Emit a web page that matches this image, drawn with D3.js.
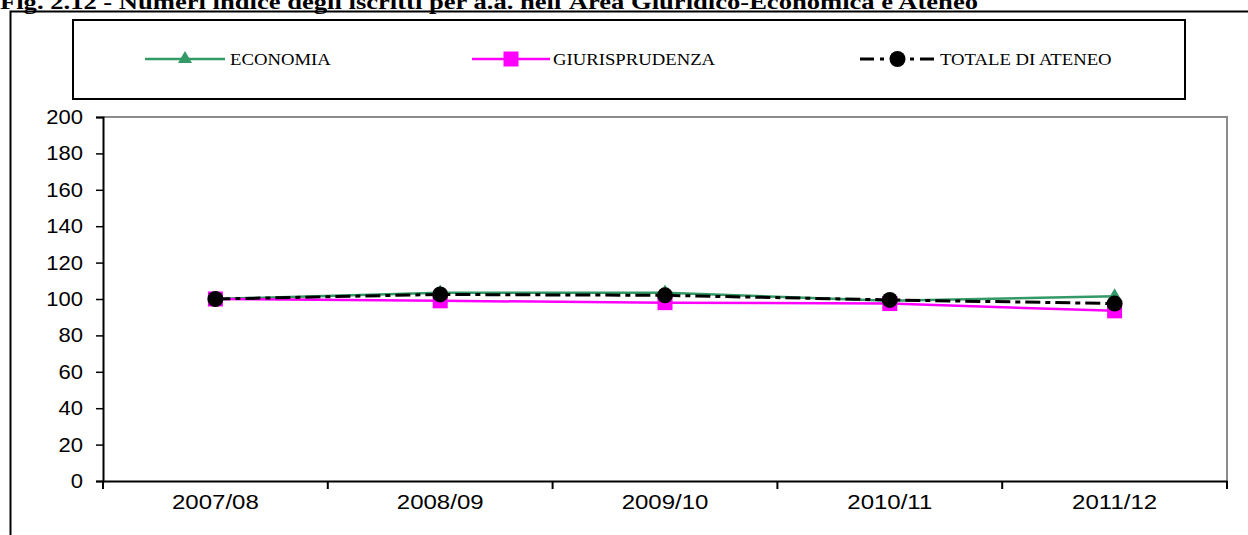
<!DOCTYPE html>
<html>
<head>
<meta charset="utf-8">
<script src="https://cdn.jsdelivr.net/npm/d3@7"></script>
<style>
  html, body { margin: 0; padding: 0; background: #fff; }
  svg { display: block; }
</style>
</head>
<body>
<svg id="chart" width="1248" height="535"></svg>
<script>
const title = "Fig. 2.12 - Numeri indice degli iscritti per a.a. nell'Area Giuridico-Economica e Ateneo";
const categories = ["2007/08", "2008/09", "2009/10", "2010/11", "2011/12"];
const economia = [100, 103.5, 103.5, 99, 101.5];
const giurisprudenza = [100, 99, 98, 97.5, 93.5];
const totale = [100, 102.5, 102, 99.5, 97.5];
const yTicks = [0, 20, 40, 60, 80, 100, 120, 140, 160, 180, 200];
const seriesNames = ["ECONOMIA", "GIURISPRUDENZA", "TOTALE DI ATENEO"];

const svg = d3.select("#chart");
svg.append("rect").attr("width", 1248).attr("height", 535).attr("fill", "#fff");

// horizontally stretch a text selection by factor
function stretch(sel, f) {
  sel.each(function () {
    const w = this.getComputedTextLength();
    d3.select(this).attr("textLength", w * f).attr("lengthAdjust", "spacingAndGlyphs");
  });
}

// Title (partly cut at top)
const tt = svg.append("text").attr("x", 0).attr("y", 9)
  .attr("font-family", "'Liberation Serif', 'Times New Roman', serif")
  .attr("font-weight", "bold").attr("font-size", 20)
  .text(title);
tt.attr("textLength", 978).attr("lengthAdjust", "spacingAndGlyphs");

// Outer frame
svg.append("path").attr("d", "M10.5,535 L10.5,11.5 L1248,11.5")
  .attr("fill", "none").attr("stroke", "#000").attr("stroke-width", 2);

// Plot area
const L = 103, R = 1227, T = 117, B = 481;
const x = d3.scaleBand().domain(categories).range([L, R]);
const y = d3.scaleLinear().domain([0, 200]).range([B, T]);

svg.append("path").attr("d", `M${L},${T} L${R},${T} L${R},${B}`)
  .attr("fill", "none").attr("stroke", "#8c8c8c").attr("stroke-width", 2);

const yAxis = d3.axisLeft(y).tickValues(yTicks).tickSize(7).tickPadding(13);
const gy = svg.append("g").attr("transform", `translate(${L},0)`).call(yAxis);
gy.select(".domain").attr("stroke-width", 2);
gy.selectAll(".tick line").attr("stroke-width", 1.5);
gy.selectAll("text").attr("font-family", "Arial, 'Liberation Sans', sans-serif")
  .attr("font-size", 20).attr("fill", "#000");
stretch(gy.selectAll("text"), 1.1);

const xAxis = d3.axisBottom(x).tickSize(0).tickPadding(14);
const gx = svg.append("g").attr("transform", `translate(0,${B})`).call(xAxis);
gx.select(".domain").attr("stroke-width", 2);
gx.selectAll("text").attr("font-family", "Arial, 'Liberation Sans', sans-serif")
  .attr("font-size", 20).attr("fill", "#000");
stretch(gx.selectAll("text"), 1.2);
// boundary ticks
const bounds = categories.map(c => x(c)).concat([x(categories[categories.length - 1]) + x.bandwidth()]);
gx.selectAll(".bt").data(bounds).enter().append("line")
  .attr("x1", d => d).attr("x2", d => d).attr("y1", 0).attr("y2", 8)
  .attr("stroke", "#000").attr("stroke-width", 2);

const cx = c => x(c) + x.bandwidth() / 2;
const line = d3.line().x((d, i) => cx(categories[i])).y(d => y(d));

const styles = [
  { data: economia, color: "#339966", width: 2.5, dash: null, marker: "triangle" },
  { data: giurisprudenza, color: "#ff00ff", width: 2.5, dash: null, marker: "square" },
  { data: totale, color: "#000", width: 3, dash: "15,5,5,5", marker: "circle" }
];

function drawMarker(g, type, color, px, py) {
  if (type === "triangle") {
    g.append("path").attr("d", d3.symbol().type(d3.symbolTriangle).size(85)())
      .attr("transform", `translate(${px},${py})`).attr("fill", color);
  } else if (type === "square") {
    g.append("rect").attr("x", px - 7.5).attr("y", py - 7.5).attr("width", 15).attr("height", 15)
      .attr("fill", color);
  } else {
    g.append("circle").attr("cx", px).attr("cy", py).attr("r", 8).attr("fill", color);
  }
}

// lines
styles.forEach(s => {
  svg.append("path").datum(s.data).attr("d", line)
    .attr("fill", "none").attr("stroke", s.color).attr("stroke-width", s.width)
    .attr("stroke-dasharray", s.dash);
});
// markers
styles.forEach(s => {
  const g = svg.append("g");
  s.data.forEach((v, i) => drawMarker(g, s.marker, s.color, cx(categories[i]), y(v)));
});

// Legend
svg.append("rect").attr("x", 73).attr("y", 20).attr("width", 1112).attr("height", 79)
  .attr("fill", "#fff").attr("stroke", "#000").attr("stroke-width", 2);
const legendPos = [{ x1: 145, x2: 225, tx: 230 }, { x1: 472, x2: 550, tx: 553 }, { x1: 860, x2: 935, tx: 940 }];
styles.forEach((s, i) => {
  const p = legendPos[i];
  const g = svg.append("g");
  g.append("line").attr("x1", p.x1).attr("x2", p.x2).attr("y1", 59).attr("y2", 59)
    .attr("stroke", s.color).attr("stroke-width", s.width).attr("stroke-dasharray", s.dash ? "14,6,4,6" : null);
  drawMarker(g, s.marker, s.color, (p.x1 + p.x2) / 2, 59);
  const t = g.append("text").attr("x", p.tx).attr("y", 65)
    .attr("font-family", "'Liberation Serif', 'Times New Roman', serif")
    .attr("font-size", 17).attr("fill", "#000").text(seriesNames[i]);
  stretch(t, 1.1);
});
</script>
</body>
</html>
